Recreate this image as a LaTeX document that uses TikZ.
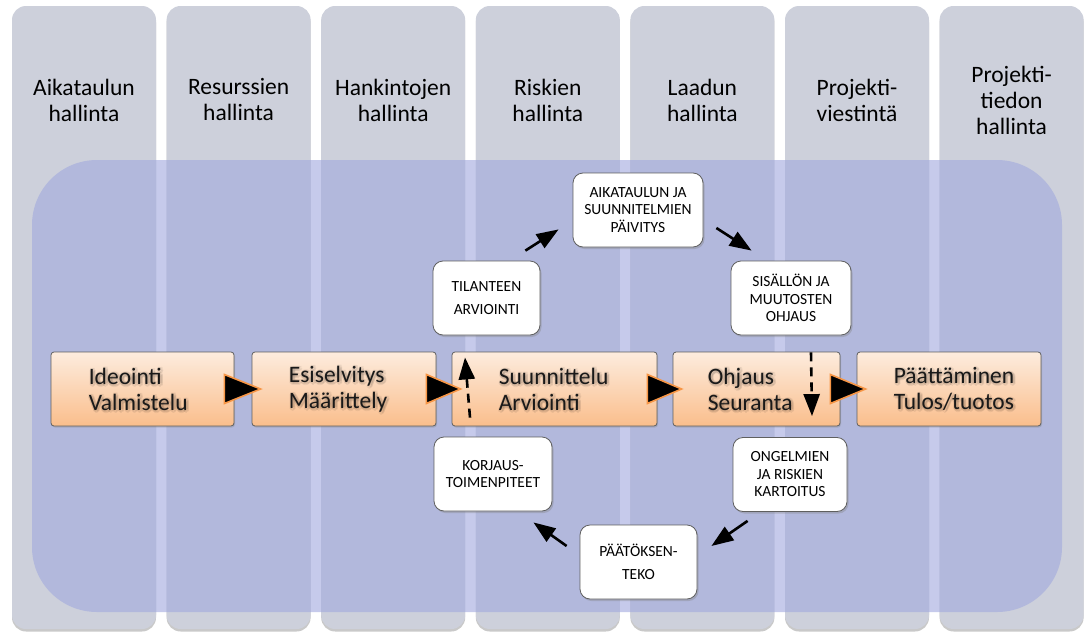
\documentclass[tikz,border=0pt]{standalone}
\usepackage{fontspec}
\setmainfont{Carlito}
\usetikzlibrary{arrows.meta,shadows,calc}

\definecolor{colfill}{RGB}{205,208,219}
\definecolor{bandblue}{RGB}{160,168,222}
\definecolor{peachtop}{RGB}{253,236,222}
\definecolor{peachbot}{RGB}{250,190,140}
\definecolor{tipedge}{RGB}{247,150,70}
\definecolor{boxedge}{RGB}{95,95,95}

\tikzset{
  column/.style={fill=colfill, rounded corners=14pt,
    drop shadow={shadow xshift=0pt, shadow yshift=-2.5pt, opacity=.35, fill=black!60}},
  header/.style={align=center, inner sep=0pt, text=black,
    font=\fontsize{23.5}{26}\selectfont},
  band/.style={fill=bandblue, fill opacity=.6, rounded corners=65pt},
  phasebox/.style={draw=boxedge, line width=.8pt, rounded corners=3pt,
    top color=peachtop, bottom color=peachbot, minimum height=74pt,
    inner sep=0pt,
    drop shadow={shadow xshift=1pt, shadow yshift=-1.5pt, opacity=.3}},
  phasetext/.style={align=left, anchor=west, inner sep=0pt,
    text=black!90, font=\fontsize{23.5}{26}\selectfont},
  stepbox/.style={draw=boxedge, line width=.8pt, fill=white, rounded corners=10pt,
    minimum height=74pt, inner sep=0pt, align=center,
    font=\fontsize{15.5}{17.5}\selectfont,
    drop shadow={shadow xshift=1.5pt, shadow yshift=-2pt, opacity=.35}},
  widegap/.style={font=\fontsize{15.5}{23}\selectfont},
  flowtip/.style={fill=black, draw=tipedge, line width=1.6pt, line join=miter},
  cycle arrow/.style={draw=black, line width=2.6pt,
    -{Triangle[length=22pt, width=16pt]}},
  cycle dashed/.style={cycle arrow, dash pattern=on 9pt off 6pt},
}

% phase label with a soft shadow beneath it
\newcommand{\phaselabel}[3]{%
  \foreach \hx/\hy in {1/3,3/1,-1/1,1/-1,2.4/2.4,-0.4/2.4,2.4/-0.4,-0.4/-0.4}
    \node[phasetext, text=black, opacity=.06] at ([shift={(\hx pt,-\hy pt)}]#1) {#3};
  \node[phasetext] (#2) at (#1) {#3};}

\begin{document}
\begin{tikzpicture}[x=1pt, y=-1pt]
  \useasboundingbox (0,0) rectangle (1085,632);
  \fill[white] (0,0) rectangle (1085,632);

  % management columns
  \foreach \i/\txt in {0/{Aikataulun\\hallinta},
                       1/{Resurssien\\hallinta},
                       2/{Hankintojen\\hallinta},
                       3/{Riskien\\hallinta},
                       4/{Laadun\\hallinta},
                       5/{Projekti-\\viestintä},
                       6/{Projekti-\\tiedon\\hallinta}} {
    \path[column] ({12+154.6*\i},6) rectangle ({156+154.6*\i},629);
    \node[header] (head\i) at ({84+154.6*\i},100) {\txt};
  }

  % translucent process band
  \fill[band] (32,160) rectangle (1062,612);

  % phases
  \node[phasebox, minimum width=183pt] (ide) at (142.5,389) {};
  \node[phasebox, minimum width=184pt] (esi) at (344,389) {};
  \node[phasebox, minimum width=205pt] (suu) at (554.5,389) {};
  \node[phasebox, minimum width=167pt] (ohj) at (756.5,389) {};
  \node[phasebox, minimum width=184pt] (paa) at (949,389) {};

  \coordinate (ideT) at ([xshift=38pt]ide.west);
  \coordinate (esiT) at ([xshift=37pt]esi.west);
  \coordinate (suuT) at ([xshift=47pt]suu.west);
  \coordinate (ohjT) at ([xshift=35pt]ohj.west);
  \coordinate (paaT) at ([xshift=37pt]paa.west);

  \phaselabel{ideT}{ideL}{Ideointi\\Valmistelu}
  \phaselabel{esiT}{esiL}{Esiselvitys\\Määrittely}
  \phaselabel{suuT}{suuL}{Suunnittelu\\Arviointi}
  \phaselabel{ohjT}{ohjL}{Ohjaus\\Seuranta}
  \phaselabel{paaT}{paaL}{Päättäminen\\Tulos/tuotos}

  % phase-to-phase arrowheads
  \foreach \a/\b in {ide/esi, esi/suu, suu/ohj, ohj/paa}
    \draw[flowtip] ($(\a.east)+(-10,-14.5)$) -- ($(\b.west)+(9,0)$)
                   -- ($(\a.east)+(-10,14.5)$) -- cycle;

  % control cycle steps
  \node[stepbox, minimum width=130pt] (aik) at (638,210)
    {AIKATAULUN JA\\SUUNNITELMIEN\\PÄIVITYS};
  \node[stepbox, widegap, minimum width=107pt] (til) at (486.5,298)
    {TILANTEEN\\ARVIOINTI};
  \node[stepbox, minimum width=120pt] (sis) at (791,298)
    {SISÄLLÖN JA\\MUUTOSTEN\\OHJAUS};
  \node[stepbox, minimum width=114pt] (ong) at (790,474.5)
    {ONGELMIEN\\JA RISKIEN\\KARTOITUS};
  \node[stepbox, minimum width=118pt] (kor) at (493,474)
    {KORJAUS-\\TOIMENPITEET};
  \node[stepbox, widegap, minimum width=117pt] (pat) at (638.5,562)
    {PÄÄTÖKSEN-\\TEKO};

  % cycle connectors
  \draw[cycle arrow] ([shift={(-15pt,10pt)}]til.north east)
                  -- ([shift={(-14pt,18pt)}]aik.south west);
  \draw[cycle arrow] ([shift={(13pt,-18pt)}]aik.east)
                  -- ([shift={(21pt,10pt)}]sis.north west);
  \draw[cycle dashed] ([shift={(20pt,-17pt)}]sis.south)
                   -- ([shift={(22pt,21pt)}]ong.north);
  \draw[cycle arrow] ([shift={(15pt,-9pt)}]ong.south west)
                  -- ([shift={(14pt,16pt)}]pat.east);
  \draw[cycle arrow] ([shift={(-13pt,16pt)}]pat.west)
                  -- ([shift={(-19pt,-11pt)}]kor.south east);
  \draw[cycle dashed] ([shift={(-23pt,19pt)}]kor.north)
                   -- ([shift={(-21.5pt,-22pt)}]til.south);
\end{tikzpicture}
\end{document}
